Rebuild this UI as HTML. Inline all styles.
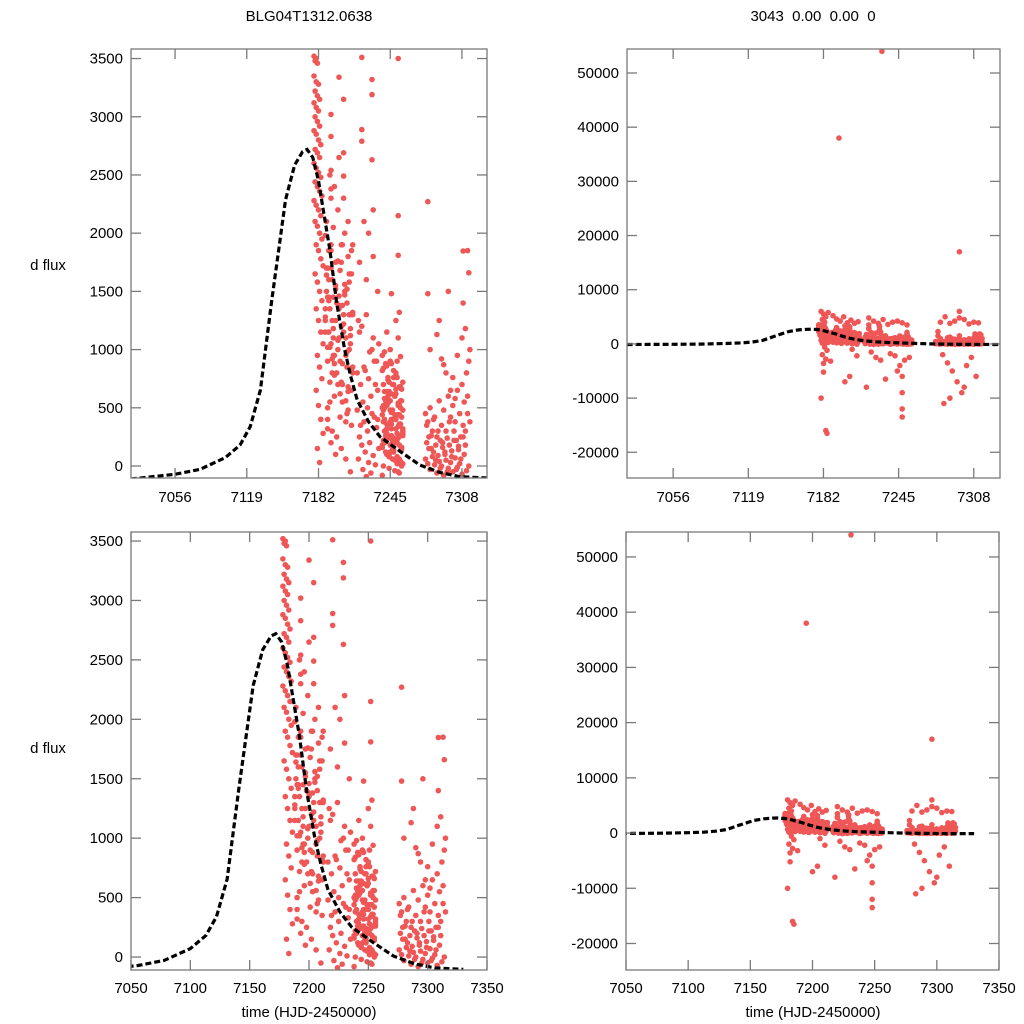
<!DOCTYPE html>
<html><head><meta charset="utf-8">
<style>
html,body{margin:0;padding:0;background:#fff;overflow:hidden;width:1024px;height:1024px;}
svg{display:block;font-family:"Liberation Sans",Arial,sans-serif;}
</style></head>
<body>
<svg id="chart" width="1024" height="1024" viewBox="0 0 1024 1024" xmlns="http://www.w3.org/2000/svg">
<rect width="1024" height="1024" fill="#fff"/>
<text x="309" y="21" font-size="15" text-anchor="middle">BLG04T1312.0638</text>
<text x="813" y="21" font-size="15" text-anchor="middle" xml:space="preserve">3043  0.00  0.00  0</text>
<text x="48" y="270" font-size="15" text-anchor="middle">d flux</text>
<text x="48" y="753" font-size="15" text-anchor="middle">d flux</text>
<text x="309" y="1017" font-size="15" text-anchor="middle">time (HJD-2450000)</text>
<text x="813" y="1017" font-size="15" text-anchor="middle">time (HJD-2450000)</text>
</svg>
<script>
// ---- model curve ----
const modelT = [7017,7056,7078,7100,7113,7122,7131,7141,7147,7153,7161,7168,7172,7177,7182,7187,7192,7198,7205,7210,7216,7226,7236,7254,7271,7289,7306,7330];
const modelF = [-112,-71,-28,71,180,338,653,1426,1856,2285,2585,2700,2720,2650,2450,2150,1856,1400,997,780,567,380,252,123,9,-57,-92,-103];

// ---- observations ----
const tA = [7178,7180,7179,7181,7178,7180,7182,7179,7181,7183,7178,7180,7182,7179,7181,7183,7178,7180,7182,7184,7179,7181,7183,7178,7180,7182,7184,7179,7181,7183,7185,7178,7180,7182,7184,7179,7181,7183,7185,7180,7182,7184,7186,7179,7181,7183,7185,7180,7182,7184,7186,7181,7183,7185,7180,7182,7184,7186,7181,7183];
const fA = [3520,3500,3480,3460,3350,3300,3280,3220,3180,3150,3120,3080,3050,3000,2960,2920,2880,2850,2800,2760,2720,2690,2650,2600,2560,2520,2480,2440,2400,2360,2320,2280,2240,2200,2150,2100,2060,2000,1950,1900,1850,1780,1720,1650,1580,1500,1420,1350,1250,1150,1050,950,850,750,650,520,400,280,150,30];
const tB = [7195,7188,7203,7191,7208,7199,7190,7211,7194,7205,7189,7200,7207,7192,7210,7197,7202,7188,7206,7193,7209,7196,7201,7212,7198,
 7202,7193,7189,7209,7197,7205,7191,7200,7212,7188,7204,7195,7210,7199,7190,7207,7194,7203,7211,7196,7192,7208,7201,7206,7190,
 7190,7198,7188,7204,7194,7210,7200,7192,7206,7196,7212,7202,7208,7199,7189,7205,7193,7211,7197,7201,7191,7207,7195,7203,7209,
 7202,7193,7189,7209,7197,7205,7191,7200,7212,7188,7204,7195,7210,7199,7190,7207,7194,7203,7211,7196,7192,7208,7201,7206,7190,
 7190,7194,7198,7202,7206,7210,7192,7196,7200,7204,7208,7212,7191,7195,7199,7203,7207,7211,7193,7197,
 7200,7204,7193,7193,7204,7193,7204,7193,7193];
const fB = [2050,1980,1900,1850,1800,1760,1700,1650,1600,1560,1500,1460,1400,1350,1300,1250,1200,1150,1100,1050,1000,950,900,850,800,
 1750,1700,1640,1580,1520,1470,1420,1380,1320,1280,1220,1180,1120,1080,1020,980,920,880,820,780,720,680,620,560,500,
 1450,1400,1350,1300,1250,1180,1100,1020,950,880,800,720,640,2200,2100,2000,1900,1850,1750,1680,1600,1520,1450,1380,1300,
 1900,1850,1700,1650,1550,1500,1450,1350,1300,1250,1150,1100,1050,1000,900,850,800,700,650,600,550,480,420,380,320,
 400,300,250,150,60,-50,2500,2400,2650,2300,2100,1900,1150,950,700,550,450,350,200,100,
 3340,3150,3020,2830,2690,2540,2490,2380,2300];
const tC = [7224,7217,7230,7220,7235,7227,7218,7233,7222,7229,7216,7226,7231,7219,7234,7223,7228,7221,7232,7225,7229,7216,7234,7222,7219,7231,7225,7218,7233,7227,7220,7235,7223,7230,7217,7226,7232,7221,7228,7224,
 7220,7229,7229,7220,7220,7229,7222,7226,7230,7234,7218,7224];
const fC = [1300,1250,1100,1200,1050,980,1150,900,850,1000,800,750,900,700,650,820,600,550,700,500,450,480,400,380,350,420,300,250,330,200,180,150,120,90,60,30,10,-30,-60,-90,
 3510,3320,3190,2890,2790,2630,2100,2000,1800,1500,1750,1600];
const tD = [7245,7238,7251,7242,7248,7240,7254,7246,7239,7250,7243,7256,7241,7247,7253,7244,7249,7255,7252,
 7250,7243,7239,7255,7246,7241,7252,7238,7248,7244,7254,7240,7249,7245,7242,7256,7251,7247,7253,
 7241,7253,7247,7238,7250,7244,7256,7242,7248,7239,7245,7252,7240,7254,7246,7251,7243,7249,7255,
 7252,7240,7246,7249,7238,7255,7243,7247,7251,7241,7254,7239,7245,7248,7242,7250,7256,7244,7253,
 7247,7255,7241,7244,7252,7239,7249,7238,7253,7246,7242,7250,7256,7243,7240,7248,7245,7251,7254,
 7245,7238,7251,7242,7248,7240,7254,7246,7239,7250,7243,7256,7241,7247,7253,7244,7249,7255,7252,
 7250,7243,7239,7255,7246,7241,7252,7238,7248,7244,7254,7240,7249,7245,7242,7256,7251,7247,7253,
 7246,7250,7242,7252,7253,7252,7230,7252];
const fD = [1000,950,900,860,820,980,940,880,840,800,760,720,880,700,680,640,600,560,520,
 780,740,700,660,620,580,540,500,760,720,680,640,600,560,520,480,440,400,360,
 560,520,480,440,400,360,320,280,240,520,480,440,400,360,320,280,240,200,160,
 340,300,260,220,180,140,100,60,20,300,260,220,180,140,100,60,20,-20,-60,
 200,160,120,80,40,0,-40,-80,440,400,360,320,280,240,200,160,120,80,40,
 900,820,760,640,700,580,500,460,380,620,540,300,260,220,180,100,50,0,-50,
 660,600,480,420,360,300,240,160,120,80,560,500,440,380,320,260,200,140,60,
 1480,1250,1150,1100,1320,1810,2200,2150];
const tE = [7276,7278,7280,7282,7284,7286,7288,7290,7292,7294,7296,7298,7300,7302,7304,7306,7308,7310,7312,7314,
 7277,7279,7281,7283,7285,7287,7289,7291,7293,7295,7297,7299,7301,7303,7305,7307,7309,7311,7313,7315,
 7276,7278,7280,7282,7284,7286,7288,7290,7292,7294,7296,7298,7300,7302,7304,7306,7308,7310,7312,7314,
 7277,7279,7281,7283,7285,7287,7289,7291,7293,7295,7297,7299,7301,7303,7305,7307,7309,7311,7313,7315,
 7278,7280,7286,7290,7294,7298,7302,7308,7311,7313,7314,7309,7292,7296,7288,7304,7300,7278,7309];
const fE = [450,380,500,300,420,250,560,350,480,300,600,420,520,380,650,450,700,550,800,900,
 200,150,260,120,180,90,220,160,100,240,180,130,300,220,170,250,350,300,450,380,
 60,20,-30,80,10,-60,40,0,-80,50,-20,30,-50,70,-10,20,-70,100,-40,0,
 350,250,150,400,50,300,-20,200,120,-50,380,80,220,-30,140,60,250,180,600,1000,
 1480,1000,1130,920,800,650,580,1100,1180,1850,1660,1400,870,1500,1250,950,760,2270,1847];
// large excursions (visible only on wide-range panels)
const tX = [7180,7182,7184,7181,7183,7186,7190,7193,7196,7199,7202,7205,7208,7211,7183,7185,7181,7184,7182,7182,7180,7184,7185,7200,7206,7210,7188,7204,7195,
 7220,7224,7228,7232,7236,7240,7244,7248,7252,7222,7226,7230,7238,7242,7246,7248,7250,7248,7248,7248,7231,7234,7244,7254,7218,
 7280,7284,7288,7292,7296,7300,7304,7308,7312,7282,7286,7290,7294,7298,7302,7306,7296,7296,7283,7310,7288,7300];
const fX = [6000,5500,5000,4500,4000,5800,5200,4600,4200,5000,3900,4400,3800,4100,-600,-1200,-2000,-2800,-3600,-5200,-10000,-16000,-16500,-7000,-1000,-2200,-3200,-6000,38000,
 4800,4200,3800,4500,3600,4000,4200,3900,3500,-1500,-2500,-3000,-1800,-2200,-4000,-6000,-3000,-9000,-12000,-13500,54000,-6500,-5000,-2500,-8000,
 4000,5000,3800,4200,6000,4500,3700,4000,3900,-2000,-3500,-5000,-7000,-9000,-4000,-2500,17000,4800,-11000,-6000,-10000,-8000];

const obsT = [].concat(tA,tB,tC,tD,tE,tX);
const obsF = [].concat(fA,fB,fC,fD,fE,fX);

const leftTicksY = [0,500,1000,1500,2000,2500,3000,3500];
const rightTicksY = [-20000,-10000,0,10000,20000,30000,40000,50000];
const topTicksX = [7056,7119,7182,7245,7308];
const botTicksX = [7050,7100,7150,7200,7250,7300,7350];

const panels = [
 {name:'top-left', px0:131,px1:487,py0:49,py1:478,t0:7017.3,t1:7330,v0:-103,v1:3582,yt:leftTicksY,xt:topTicksX,xl:497},
 {name:'top-right',px0:627,px1:1000,py0:49,py1:478,t0:7017.3,t1:7330,v0:-24750,v1:54430,yt:rightTicksY,xt:topTicksX,xl:497},
 {name:'bottom-left',px0:131,px1:487,py0:532,py1:970,t0:7050,t1:7350,v0:-109,v1:3576,yt:leftTicksY,xt:botTicksX,xl:988},
 {name:'bottom-right',px0:626,px1:999,py0:532,py1:970,t0:7050,t1:7350,v0:-24800,v1:54520,yt:rightTicksY,xt:botTicksX,xl:988}
];

const NS='http://www.w3.org/2000/svg';
const svg=document.getElementById('chart');
function mk(tag,attrs,parent){const e=document.createElementNS(NS,tag);for(const k in attrs)e.setAttribute(k,attrs[k]);(parent||svg).appendChild(e);return e;}
const defs=mk('defs',{});
panels.forEach((p,i)=>{
  const sx=t=>p.px0+(t-p.t0)/(p.t1-p.t0)*(p.px1-p.px0);
  const sy=v=>p.py1-(v-p.v0)/(p.v1-p.v0)*(p.py1-p.py0);
  const cp=mk('clipPath',{id:'clip'+i},defs);
  mk('rect',{x:p.px0,y:p.py0,width:p.px1-p.px0,height:p.py1-p.py0},cp);
  const g=mk('g',{});
  
  
  const pts=mk('g',{'clip-path':'url(#clip'+i+')',fill:'#ef5656'},g);
  
  
  for(let k=0;k<obsT.length;k++){
    const c=mk('circle',{cx:sx(obsT[k]).toFixed(1),cy:sy(obsF[k]).toFixed(1),r:2.8},pts);
    
    
  }
  let d='';
  modelT.forEach((t,k)=>{d+=(k?'L':'M')+sx(t).toFixed(1)+' '+sy(modelF[k]).toFixed(1);});
  const ln=mk('path',{d:d,fill:'none',stroke:'#000','stroke-width':3.2,'stroke-dasharray':'6 3','clip-path':'url(#clip'+i+')'},g);
  
  
  const fr=mk('rect',{x:p.px0,y:p.py0,width:p.px1-p.px0,height:p.py1-p.py0,fill:'none',stroke:'#7a7a7a','stroke-width':1.3},g);
  
  
  p.yt.forEach(v=>{
    const y=sy(v);
    mk('line',{x1:p.px0,x2:p.px0+10,y1:y,y2:y,stroke:'#7a7a7a','stroke-width':1.3},g);
    mk('line',{x1:p.px1-10,x2:p.px1,y1:y,y2:y,stroke:'#7a7a7a','stroke-width':1.3},g);
    const tx=mk('text',{x:p.px0-8,y:y+5,'font-size':15,'text-anchor':'end'},g);
    tx.textContent=v;
    
    
  });
  p.xt.forEach(t=>{
    const x=sx(t);
    mk('line',{x1:x,x2:x,y1:p.py1,y2:p.py1-10,stroke:'#7a7a7a','stroke-width':1.3},g);
    mk('line',{x1:x,x2:x,y1:p.py0,y2:p.py0+10,stroke:'#7a7a7a','stroke-width':1.3},g);
    const tx=mk('text',{x:x,y:p.xl+5,'font-size':15,'text-anchor':'middle'},g);
    tx.textContent=t;
    
    
  });
});
</script>
</body></html>
